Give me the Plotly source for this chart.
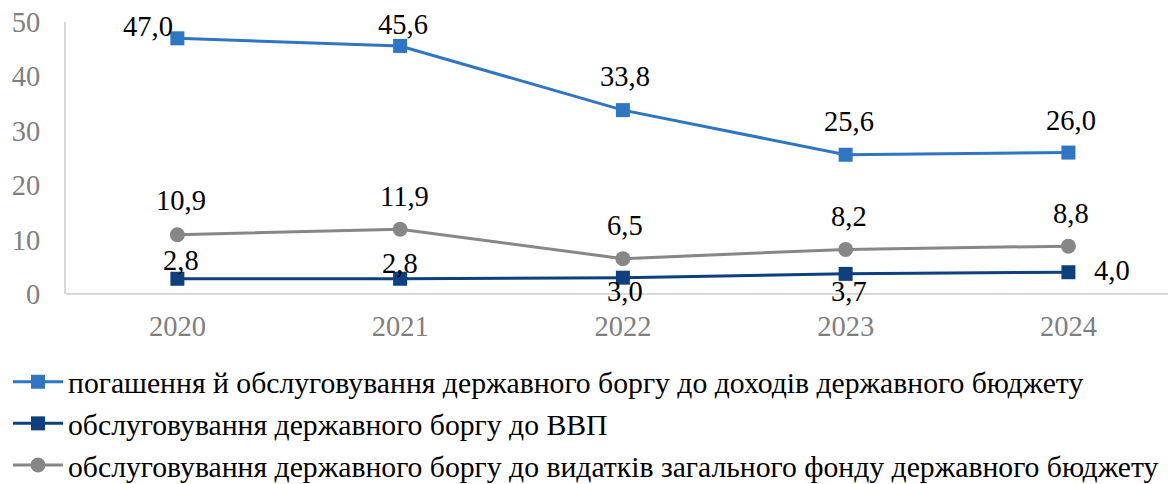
import plotly.graph_objects as go

years = ["2020", "2021", "2022", "2023", "2024"]
repay_to_revenue = [47.0, 45.6, 33.8, 25.6, 26.0]
service_to_gdp = [2.8, 2.8, 3.0, 3.7, 4.0]
service_to_expend = [10.9, 11.9, 6.5, 8.2, 8.8]

names = [
    "погашення й обслуговування державного боргу до доходів державного бюджету",
    "обслуговування державного боргу до ВВП",
    "обслуговування державного боргу до видатків загального фонду державного бюджету",
]

# label placement offsets (pixels) relative to each point: style only
label_dx = [
    [-29, 3, 2, 3, 3],
    [4, 0, 2, 3, 44],
    [4, 4, 2, 3, 3],
]
label_dy = [
    [12, 21, 34, 33, 32],
    [18, 15, -14, -18, 2],
    [34, 33, 33, 33, 33],
]

def fmt(v):
    return f"{v:.1f}".replace(".", ",")

font_family = "Liberation Serif"
lbl_font = dict(family=font_family, size=28.5, color="black")

series = [
    (repay_to_revenue, "#2E75C4", "square", 14),
    (service_to_gdp, "#0E3F7E", "square", 14),
    (service_to_expend, "#878787", "circle", 15),
]

fig = go.Figure()
for i, (vals, color, sym, msize) in enumerate(series):
    fig.add_trace(go.Scatter(
        x=years, y=vals, name=names[i], legendgroup=f"g{i}",
        mode="lines+markers",
        line=dict(color=color, width=3),
        marker=dict(symbol=sym, size=msize, color=color),
        cliponaxis=False,
    ))
    for j, v in enumerate(vals):
        # category axis: annotation x given as the category index
        fig.add_annotation(
            x=j, y=v, text=fmt(v), showarrow=False,
            xanchor="center", yanchor="middle",
            xshift=label_dx[i][j], yshift=label_dy[i][j],
            font=lbl_font,
        )

fig.update_layout(
    width=1168, height=476,
    margin=dict(l=58, r=0, t=14, b=190, autoexpand=False),
    paper_bgcolor="white", plot_bgcolor="white",
    font=dict(family=font_family, size=29.7, color="black"),
    showlegend=True,
    legend=dict(
        x=0.0, y=0.269, xref="container", yref="container",
        xanchor="left", yanchor="top",
        orientation="v", traceorder="grouped", tracegroupgap=0,
        font=dict(family=font_family, size=29.7, color="black"),
        itemwidth=50, bgcolor="rgba(0,0,0,0)",
    ),
    xaxis=dict(
        type="category", range=[-0.5, 4.483], automargin=False,
        showgrid=False, showline=False, zeroline=False,
        ticks="", tickfont=dict(family=font_family, size=28.5, color="#7F7F7F"),
        ticklabelstandoff=12,
    ),
    yaxis=dict(
        range=[0, 50], dtick=10, showgrid=False, automargin=False,
        showline=True, linecolor="#D9D9D9", linewidth=2,
        zeroline=True, zerolinecolor="#D9D9D9", zerolinewidth=2,
        ticks="", tickfont=dict(family=font_family, size=28.5, color="#7F7F7F"),
        ticklabelstandoff=18, ticklabeloverflow="allow",
    ),
)

fig.write_html("out.html")
